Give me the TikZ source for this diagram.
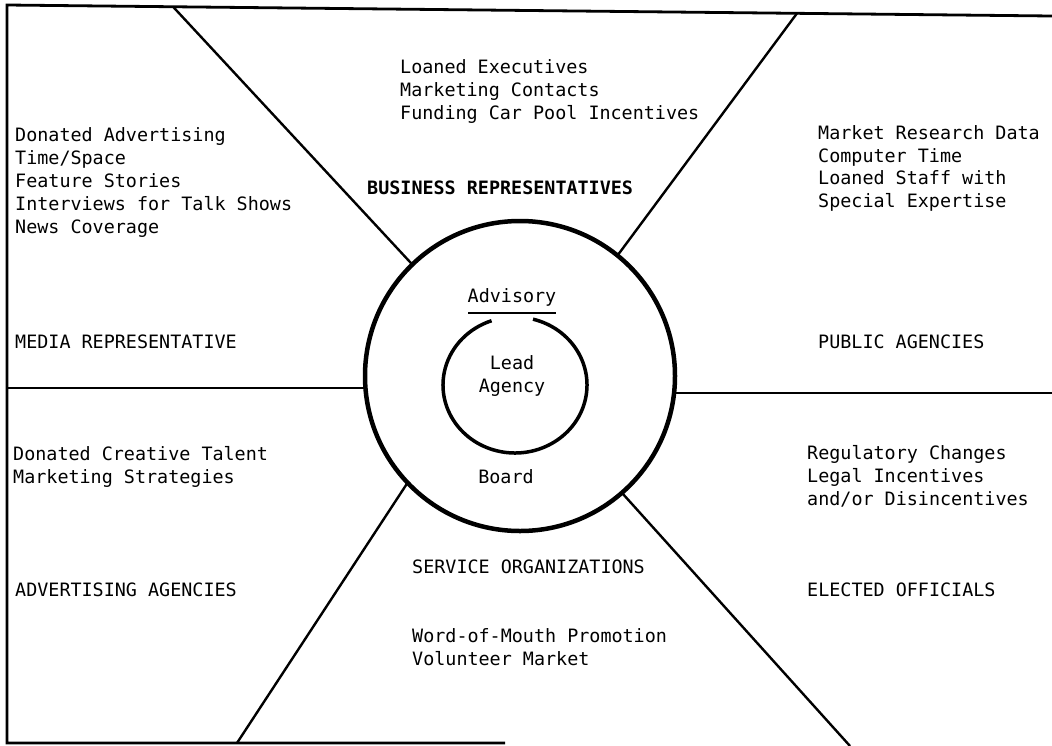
\documentclass[tikz,border=0pt]{standalone}
\usepackage{fontspec}
\newfontfamily\printfont{DejaVu Sans Mono}
\begin{document}
\begin{tikzpicture}[x=1pt,y=-1pt,
  txt/.style={anchor=west, inner sep=0pt, align=left,
    font=\printfont\fontsize{18.4}{22.8}\selectfont},
  boldtxt/.style={txt, font=\printfont\bfseries\fontsize{18.4}{22.8}\selectfont},
  ctr/.style={anchor=center, inner sep=0pt, align=center,
    font=\printfont\fontsize{18.4}{22.8}\selectfont},
  frame/.style={line width=2.8pt},
  spoke/.style={line width=2.4pt},
]
\useasboundingbox (0,0) rectangle (1052,745);
\fill[white] (0,0) rectangle (1052,745);

% outer frame (open at the lower right)
\coordinate (tl) at (7,5);
\coordinate (tr) at (1052,16);
\coordinate (bl) at (7,743);
\coordinate (br) at (505,743);
\draw[frame] (tr) -- (tl) -- (bl) -- (br);

% advisory board ring and lead agency circle
\node[draw, circle, minimum size=310pt, line width=4.5pt, inner sep=0pt] (board) at (520,376) {};
\coordinate (leadc) at (515,385);
\draw[line width=3.5pt] (leadc) ++(284.5:72 and 68)
  arc[start angle=284.5, end angle=611, x radius=72, y radius=68];
\coordinate (ulineA) at (468,313);
\coordinate (ulineB) at (556,313);
\draw[line width=2.5pt] (ulineA) -- (ulineB);

% spokes dividing the sectors
\coordinate (ulTop) at (173,6.7);   \coordinate (ulC) at (412.3,264.5);
\coordinate (urTop) at (797,13.3);  \coordinate (urC) at (617.5,255.5);
\coordinate (lEdge) at (7,388);     \coordinate (lC) at (365.5,388);
\coordinate (rEdge) at (1052,393);  \coordinate (rC) at (674,393);
\coordinate (llBot) at (237,743);   \coordinate (llC) at (407.6,482.7);
\coordinate (lrBot) at (850,746);   \coordinate (lrC) at (621.9,492.8);
\draw[spoke] (ulTop) -- (ulC);
\draw[spoke] (urTop) -- (urC);
\draw[spoke] (lEdge) -- (lC);
\draw[spoke] (rC) -- (rEdge);
\draw[spoke] (llBot) -- (llC);
\draw[spoke] (lrC) -- (lrBot);

% centre labels
\node[ctr] (advisory) at (512,297) {Advisory};
\node[ctr] (lead) at (512,376) {Lead\\Agency};
\node[ctr] (boardlbl) at (506,477) {Board};

% sector texts
\node[txt] (mediaItems) at (15,182.5) {Donated Advertising\\Time/Space\\Feature Stories\\Interviews for Talk Shows\\News Coverage};
\node[txt] (media) at (15,342) {MEDIA REPRESENTATIVE};
\node[txt] (advItems) at (13,467) {Donated Creative Talent\\Marketing Strategies};
\node[txt] (adv) at (15,590) {ADVERTISING AGENCIES};

\node[txt] (busItems) at (400,91.5) {Loaned Executives\\Marketing Contacts\\Funding Car Pool Incentives};
\node[boldtxt] (bus) at (367,188) {BUSINESS REPRESENTATIVES};

\node[txt] (pubItems) at (818,168.5) {Market Research Data\\Computer Time\\Loaned Staff with\\Special Expertise};
\node[txt] (pub) at (818,342) {PUBLIC AGENCIES};

\node[txt] (elItems) at (807,476.5) {Regulatory Changes\\Legal Incentives\\and/or Disincentives};
\node[txt] (el) at (807,590) {ELECTED OFFICIALS};

\node[txt] (svc) at (412,567) {SERVICE ORGANIZATIONS};
\node[txt] (svcItems) at (412,647.5) {Word-of-Mouth Promotion\\Volunteer Market};
\end{tikzpicture}
\end{document}
